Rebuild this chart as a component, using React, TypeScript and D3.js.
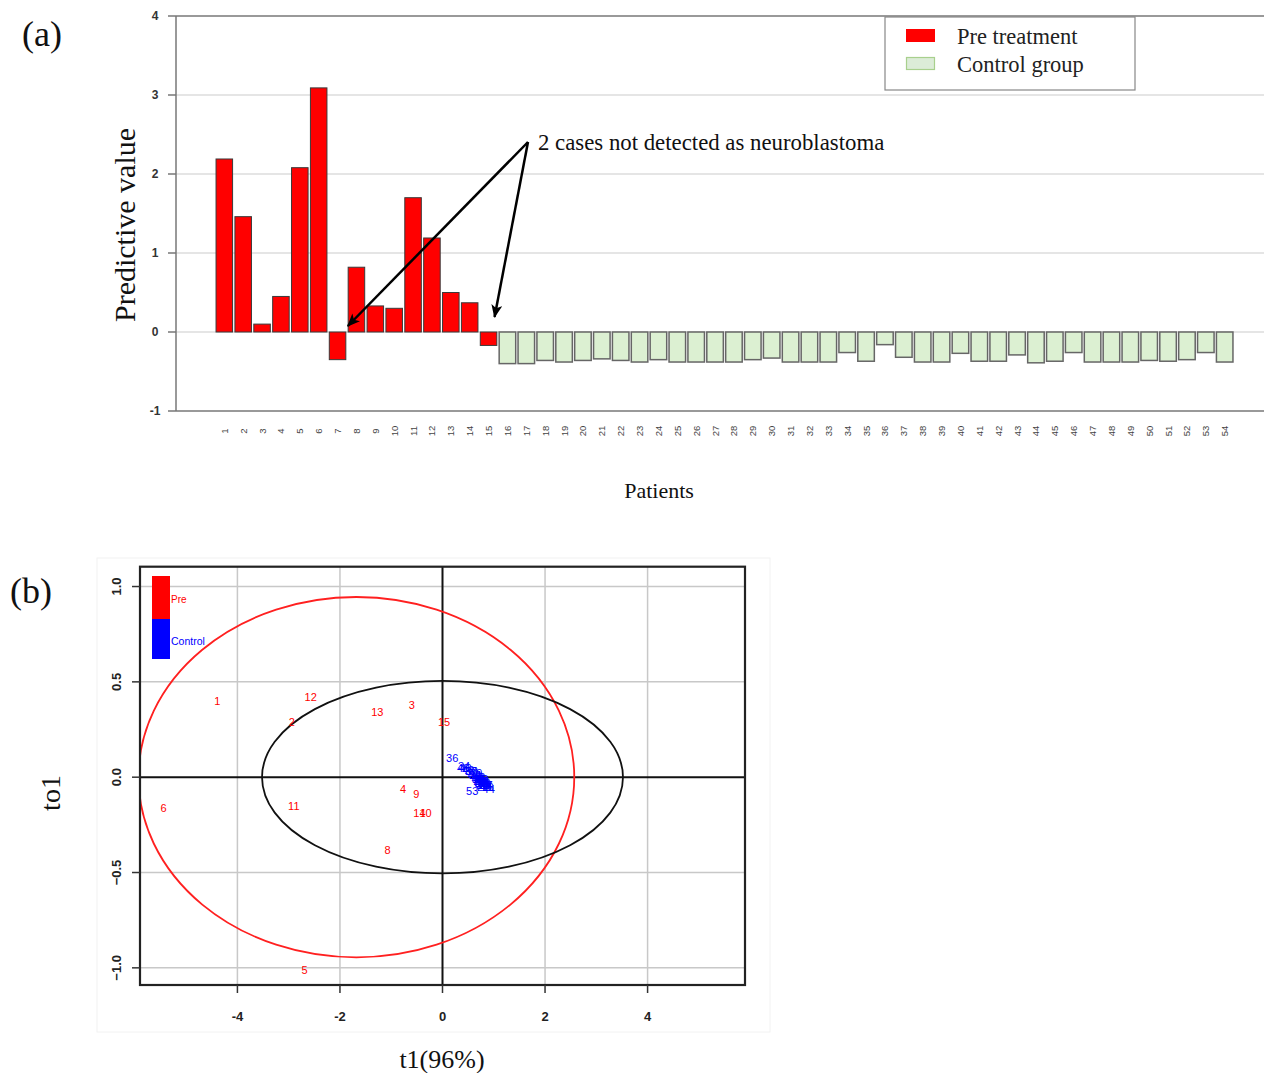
import React from "react"
import * as d3 from "d3"

// ---- panel (a): predictive value per patient ----
const patients = [
    "1", "2", "3", "4", "5", "6", "7", "8", "9", "10", "11", "12", "13", "14", "15",
    "16", "17", "18", "19", "20", "21", "22", "23", "24", "25", "26", "27", "28", "29", "30",
    "31", "32", "33", "34", "35", "36", "37", "38", "39", "40", "41", "42", "43", "44", "45",
    "46", "47", "48", "49", "50", "51", "52", "53", "54",
]
const preValues = [
    2.19, 1.46, 0.1, 0.45, 2.08, 3.09, -0.35, 0.82, 0.33, 0.3, 1.7, 1.19, 0.5, 0.37, -0.17,
]
const controlValues = [
    -0.4, -0.4, -0.36, -0.38, -0.36, -0.34, -0.36, -0.38, -0.35, -0.38, -0.38, -0.38, -0.38,
    -0.35, -0.33, -0.38, -0.38, -0.38, -0.26, -0.37, -0.16, -0.32, -0.38, -0.38, -0.27, -0.37,
    -0.37, -0.29, -0.39, -0.37, -0.26, -0.38, -0.38, -0.38, -0.36, -0.37, -0.35, -0.26, -0.38,
]
const yTicksA = [-1, 0, 1, 2, 3, 4]
const gridA = [0, 1, 2, 3]

// ---- panel (b): score plot ----
const preIds = ["1", "2", "3", "4", "5", "6", "7", "8", "9", "10", "11", "12", "13", "14", "15"]
const preT1 = [-4.39, -2.94, -0.6, -0.77, -2.69, -5.44, 0.65, -1.07, -0.51, -0.33, -2.9, -2.57, -1.27, -0.45, 0.03]
const preTo1 = [0.4, 0.29, 0.38, -0.06, -1.01, -0.16, -0.02, -0.38, -0.09, -0.19, -0.15, 0.42, 0.34, -0.19, 0.29]
const controlIds = [
    "16", "17", "18", "19", "20", "21", "22", "23", "24", "25", "26", "27", "28", "29", "30",
    "31", "32", "33", "34", "35", "36", "37", "38", "39", "40", "41", "42", "43", "44", "45",
    "46", "47", "48", "49", "50", "51", "52", "53", "54",
]
const controlT1 = [
    0.88, 0.86, 0.7, 0.78, 0.68, 0.6, 0.72, 0.8, 0.64, 0.76, 0.82, 0.79, 0.77, 0.66, 0.57,
    0.81, 0.75, 0.78, 0.42, 0.74, 0.19, 0.55, 0.8, 0.83, 0.45, 0.73, 0.71, 0.5, 0.9, 0.72,
    0.4, 0.79, 0.84, 0.76, 0.69, 0.74, 0.63, 0.58, 0.85,
]
const controlTo1 = [
    -0.05, -0.04, -0.01, -0.03, 0.0, 0.02, -0.02, -0.04, 0.01, -0.02, -0.03, -0.05, -0.01, 0.02, 0.03,
    -0.02, -0.03, -0.04, 0.06, -0.01, 0.1, 0.03, -0.03, -0.04, 0.05, -0.02, 0.0, 0.04, -0.06, -0.01,
    0.05, -0.02, -0.05, -0.03, -0.01, -0.03, 0.01, -0.075, -0.04,
]
const xTicksB = [-4, -2, 0, 2, 4]
const yTicksB = [-1, -0.5, 0, 0.5, 1]
// confidence ellipses: [cx, cy, rx, ry]
const modelEllipse = [0, 0, 3.52, 0.505]
const preEllipse = [-1.68, 0, 4.25, 0.945]

const serif = "'Liberation Serif', 'Times New Roman', serif"
const sans = "'Liberation Sans', Arial, sans-serif"

export default function App() {
    // panel (a) scales
    const xA = d3.scaleBand().domain(patients).range([213.7, 1235.3]).padding(0.124)
    const yA = d3.scaleLinear().domain([-1, 4]).range([411, 16])
    const values = [...preValues, ...controlValues]

    // panel (b) scales
    const xB = d3.scaleLinear().domain([-5.9, 5.9]).range([140, 745])
    const yB = d3.scaleLinear().domain([-1.09, 1.104]).range([985, 566.7])

    const ell = (e, color, key) => (
        <ellipse
            key={key}
            cx={xB(e[0])}
            cy={yB(e[1])}
            rx={xB(e[2]) - xB(0)}
            ry={yB(0) - yB(e[3])}
            fill="none"
            stroke={color}
            strokeWidth={1.8}
        />
    )

    return (
        <div style={{ position: "absolute", left: 0, top: 0 }}>
            <svg width={1264} height={1073} style={{ display: "block", background: "#fff" }}>
                <defs>
                    <marker
                        id="arrow"
                        viewBox="0 0 12 10"
                        refX={11}
                        refY={5}
                        markerWidth={14}
                        markerHeight={11}
                        markerUnits="userSpaceOnUse"
                        orient="auto"
                    >
                        <path d="M0,0 L12,5 L0,10 L3,5 z" fill="#000" />
                    </marker>
                    <clipPath id="clipB">
                        <rect x={140} y={566.7} width={605} height={418.3} />
                    </clipPath>
                </defs>

                {/* ---------------- panel (a) ---------------- */}
                <text x={22} y={46} fontFamily={serif} fontSize={36} fill="#111">(a)</text>

                {gridA.map((v) => (
                    <line key={"g" + v} x1={176} x2={1264} y1={yA(v)} y2={yA(v)} stroke="#dcdcdc" strokeWidth={1.5} />
                ))}
                <line x1={176} x2={1264} y1={yA(4)} y2={yA(4)} stroke="#777" strokeWidth={1.5} />
                <line x1={176} x2={1264} y1={yA(-1)} y2={yA(-1)} stroke="#777" strokeWidth={1.5} />
                <line x1={176} x2={176} y1={yA(4)} y2={yA(-1)} stroke="#777" strokeWidth={1.5} />
                {yTicksA.map((v) => (
                    <g key={"ya" + v}>
                        <line x1={168} x2={176} y1={yA(v)} y2={yA(v)} stroke="#777" strokeWidth={1.5} />
                        <text
                            x={155}
                            y={yA(v)}
                            textAnchor="middle"
                            dominantBaseline="central"
                            fontFamily={sans}
                            fontWeight="bold"
                            fontSize={12}
                            fill="#333"
                        >
                            {v}
                        </text>
                    </g>
                ))}

                {values.map((v, i) => {
                    const isPre = i < preValues.length
                    const y0 = yA(0)
                    const y1 = yA(v)
                    return (
                        <rect
                            key={"b" + i}
                            x={xA(patients[i])}
                            y={Math.min(y0, y1)}
                            width={xA.bandwidth()}
                            height={Math.abs(y1 - y0)}
                            fill={isPre ? "#ff0000" : "#dcf0d2"}
                            stroke={isPre ? "#3a3a3a" : "#666"}
                            strokeWidth={isPre ? 1 : 1.5}
                        />
                    )
                })}

                {patients.map((p) => {
                    const cx = xA(p) + xA.bandwidth() / 2
                    return (
                        <text
                            key={"xa" + p}
                            transform={`translate(${cx},431) rotate(-90)`}
                            textAnchor="middle"
                            dominantBaseline="central"
                            fontFamily={sans}
                            fontSize={9.5}
                            fill="#444"
                        >
                            {p}
                        </text>
                    )
                })}

                <text
                    transform="translate(135,225) rotate(-90)"
                    textAnchor="middle"
                    fontFamily={serif}
                    fontSize={30}
                    fill="#111"
                >
                    Predictive value
                </text>
                <text x={659} y={498} textAnchor="middle" fontFamily={serif} fontSize={22} fill="#111">
                    Patients
                </text>

                {/* legend (a) */}
                <rect x={885} y={17} width={250} height={73} fill="#fff" stroke="#888" strokeWidth={1.2} />
                <rect x={906} y={29} width={29} height={13} fill="#ff0000" />
                <rect x={906.5} y={57.5} width={28} height={12} fill="#dcecd8" stroke="#a8d08d" strokeWidth={1.2} />
                <text x={957} y={44} fontFamily={serif} fontSize={22.5} fill="#222">Pre treatment</text>
                <text x={957} y={72} fontFamily={serif} fontSize={22.5} fill="#222">Control group</text>

                {/* annotation */}
                <text x={538} y={150} fontFamily={serif} fontSize={22.8} fill="#111">
                    2 cases not detected as neuroblastoma
                </text>
                <line
                    x1={528}
                    y1={142}
                    x2={xA("7") + xA.bandwidth() + 2}
                    y2={yA(0) - 6}
                    stroke="#000"
                    strokeWidth={2.5}
                    markerEnd="url(#arrow)"
                />
                <line
                    x1={528}
                    y1={142}
                    x2={xA("15") + xA.bandwidth() / 2 + 6}
                    y2={yA(0) - 15}
                    stroke="#000"
                    strokeWidth={2.5}
                    markerEnd="url(#arrow)"
                />

                {/* ---------------- panel (b) ---------------- */}
                <rect x={97} y={558} width={673} height={474} fill="none" stroke="#f2f2f2" strokeWidth={1} />
                <text x={10} y={603} fontFamily={serif} fontSize={36} fill="#111">(b)</text>

                {xTicksB.filter((v) => v !== 0).map((v) => (
                    <line key={"gx" + v} x1={xB(v)} x2={xB(v)} y1={566.7} y2={985} stroke="#c8c8c8" strokeWidth={1.5} />
                ))}
                {yTicksB.filter((v) => v !== 0).map((v) => (
                    <line key={"gy" + v} x1={140} x2={745} y1={yB(v)} y2={yB(v)} stroke="#c8c8c8" strokeWidth={1.5} />
                ))}
                <line x1={xB(0)} x2={xB(0)} y1={566.7} y2={985} stroke="#111" strokeWidth={2} />
                <line x1={140} x2={745} y1={yB(0)} y2={yB(0)} stroke="#111" strokeWidth={2} />

                <g clipPath="url(#clipB)">
                    {ell(preEllipse, "#ff2020", "pe")}
                    {ell(modelEllipse, "#111", "me")}
                </g>

                {/* legend (b) */}
                <rect x={152} y={576} width={18} height={43} fill="#ff0000" />
                <rect x={152} y={619} width={18} height={40} fill="#0000ff" />
                <text x={171} y={603} fontFamily={sans} fontSize={10} fill="#ff0000">Pre</text>
                <text x={171} y={645} fontFamily={sans} fontSize={10.5} fill="#0000ff">Control</text>

                {preIds.map((id, i) => (
                    <text
                        key={"p" + id}
                        x={xB(preT1[i])}
                        y={yB(preTo1[i])}
                        textAnchor="middle"
                        dominantBaseline="central"
                        fontFamily={sans}
                        fontSize={11}
                        fill="#ff0000"
                    >
                        {id}
                    </text>
                ))}
                {controlIds.map((id, i) => (
                    <text
                        key={"c" + id}
                        x={xB(controlT1[i])}
                        y={yB(controlTo1[i])}
                        textAnchor="middle"
                        dominantBaseline="central"
                        fontFamily={sans}
                        fontSize={11}
                        fill="#0000ff"
                    >
                        {id}
                    </text>
                ))}

                <rect x={140} y={566.7} width={605} height={418.3} fill="none" stroke="#222" strokeWidth={2.2} />

                {xTicksB.map((v) => (
                    <g key={"xb" + v}>
                        <line x1={xB(v)} x2={xB(v)} y1={985} y2={993} stroke="#333" strokeWidth={1.5} />
                        <text
                            x={xB(v)}
                            y={1016}
                            textAnchor="middle"
                            dominantBaseline="central"
                            fontFamily={sans}
                            fontWeight="bold"
                            fontSize={13}
                            fill="#222"
                        >
                            {v}
                        </text>
                    </g>
                ))}
                {yTicksB.map((v) => (
                    <g key={"yb" + v}>
                        <line x1={132} x2={140} y1={yB(v)} y2={yB(v)} stroke="#333" strokeWidth={1.5} />
                        <text
                            transform={`translate(116,${yB(v)}) rotate(-90)`}
                            textAnchor="middle"
                            dominantBaseline="central"
                            fontFamily={sans}
                            fontWeight="bold"
                            fontSize={13}
                            fill="#222"
                        >
                            {d3.format(".1f")(v)}
                        </text>
                    </g>
                ))}

                <text
                    transform="translate(60,793) rotate(-90)"
                    textAnchor="middle"
                    fontFamily={serif}
                    fontSize={28}
                    fill="#111"
                >
                    to1
                </text>
                <text x={442} y={1068} textAnchor="middle" fontFamily={serif} fontSize={26} fill="#111">
                    t1(96%)
                </text>
            </svg>
        </div>
    )
}
